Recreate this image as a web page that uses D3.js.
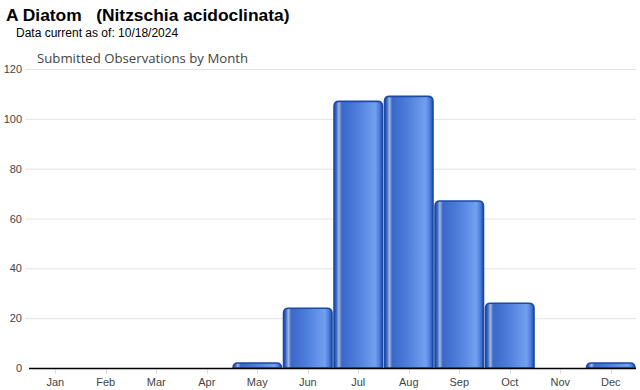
<!DOCTYPE html>
<html lang="en">
<head>
    <meta charset="utf-8">
    <title>A Diatom - Submitted Observations by Month</title>
    <script src="https://d3js.org/d3.v7.min.js"></script>
    <style>
        body { margin: 0; background: #fff; }
        text { font-family: "Liberation Sans", Arial, sans-serif; }
    </style>
</head>
<body>
    <svg id="chart" width="640" height="390"></svg>
    <script>
        const months = ['Jan', 'Feb', 'Mar', 'Apr', 'May', 'Jun', 'Jul', 'Aug', 'Sep', 'Oct', 'Nov', 'Dec'];
        const observations = [0, 0, 0, 0, 2, 24, 107, 109, 67, 26, 0, 2];
        const yTicks = [0, 20, 40, 60, 80, 100, 120];

        const svg = d3.select('#chart');

        // headings
        svg.append('text')
            .attr('x', 6).attr('y', 21)
            .attr('font-size', 17.4).attr('font-weight', 'bold')
            .attr('fill', '#000')
            .style('white-space', 'pre')
            .text('A Diatom   (Nitzschia acidoclinata)');
        svg.append('text')
            .attr('x', 16).attr('y', 37)
            .attr('font-size', 12).attr('fill', '#000')
            .text('Data current as of: 10/18/2024');
        svg.append('text')
            .attr('x', 37).attr('y', 63)
            .attr('font-size', 13.2).attr('fill', '#444')
            .style('font-family', '"Open Sans", sans-serif')
            .text('Submitted Observations by Month');

        let scaleX = d3.scaleBand().domain(months).range([30, 636]).paddingInner(0.02).paddingOuter(0.01);
        let scaleY = d3.scaleLinear().domain([0, 120]).range([368, 69]);

        // bar gradient
        let grad = svg.append('defs').append('linearGradient')
            .attr('id', 'barGrad').attr('x1', '0%').attr('x2', '100%').attr('y1', '0%').attr('y2', '0%');
        [[0, '#1848a8'], [0.05, '#3f6cc4'], [0.1, '#a3b8de'], [0.16, '#3a68c8'],
         [0.5, '#4f80dc'], [0.85, '#72a0f0'], [0.94, '#4a7ad8'], [1, '#1a4cae']]
            .forEach(s => grad.append('stop').attr('offset', s[0]).attr('stop-color', s[1]));

        // grid lines + y labels
        let yAxis = svg.append('g');
        yAxis.selectAll('line').data(yTicks.filter(t => t > 0)).enter().append('line')
            .attr('x1', 25).attr('x2', 636)
            .attr('y1', d => scaleY(d) + 0.5).attr('y2', d => scaleY(d) + 0.5)
            .attr('stroke', '#e3e3e3').attr('stroke-width', 1);
        yAxis.selectAll('text').data(yTicks).enter().append('text')
            .attr('x', 22).attr('y', d => scaleY(d) + 4)
            .attr('text-anchor', 'end')
            .attr('font-size', 11).attr('fill', '#444')
            .text(d => d);

        // bars with rounded top corners
        function barPath(d) {
            let x0 = scaleX(d.month) + 0.5;
            let x1 = x0 + scaleX.bandwidth() - 1;
            let y0 = scaleY(0);
            let y1 = scaleY(d.value);
            let r = Math.min(5, (y0 - y1));
            return `M${x0},${y0} L${x0},${y1 + r} Q${x0},${y1} ${x0 + r},${y1} L${x1 - r},${y1} Q${x1},${y1} ${x1},${y1 + r} L${x1},${y0} Z`;
        }

        let barData = months.map((m, i) => ({ month: m, value: observations[i] }))
            .filter(d => d.value > 0);

        svg.append('g')
            .selectAll('path')
            .data(barData)
            .enter()
            .append('path')
            .attr('d', barPath)
            .attr('fill', 'url(#barGrad)')
            .attr('stroke', '#1b4aa6')
            .attr('stroke-width', 1.6);

        // x axis
        let xAxis = svg.append('g');
        xAxis.selectAll('line.tick').data(months).enter().append('line')
            .attr('class', 'tick')
            .attr('x1', d => Math.round(scaleX(d) + scaleX.bandwidth() / 2) + 0.5)
            .attr('x2', d => Math.round(scaleX(d) + scaleX.bandwidth() / 2) + 0.5)
            .attr('y1', 369).attr('y2', 374)
            .attr('stroke', '#ddd');
        xAxis.append('line')
            .attr('x1', 29).attr('x2', 636)
            .attr('y1', 368.5).attr('y2', 368.5)
            .attr('stroke', '#000').attr('stroke-width', 1.5);
        xAxis.selectAll('text').data(months).enter().append('text')
            .attr('x', d => scaleX(d) + scaleX.bandwidth() / 2)
            .attr('y', 386)
            .attr('text-anchor', 'middle')
            .attr('font-size', 11).attr('fill', '#444')
            .text(d => d);
    </script>
</body>
</html>
